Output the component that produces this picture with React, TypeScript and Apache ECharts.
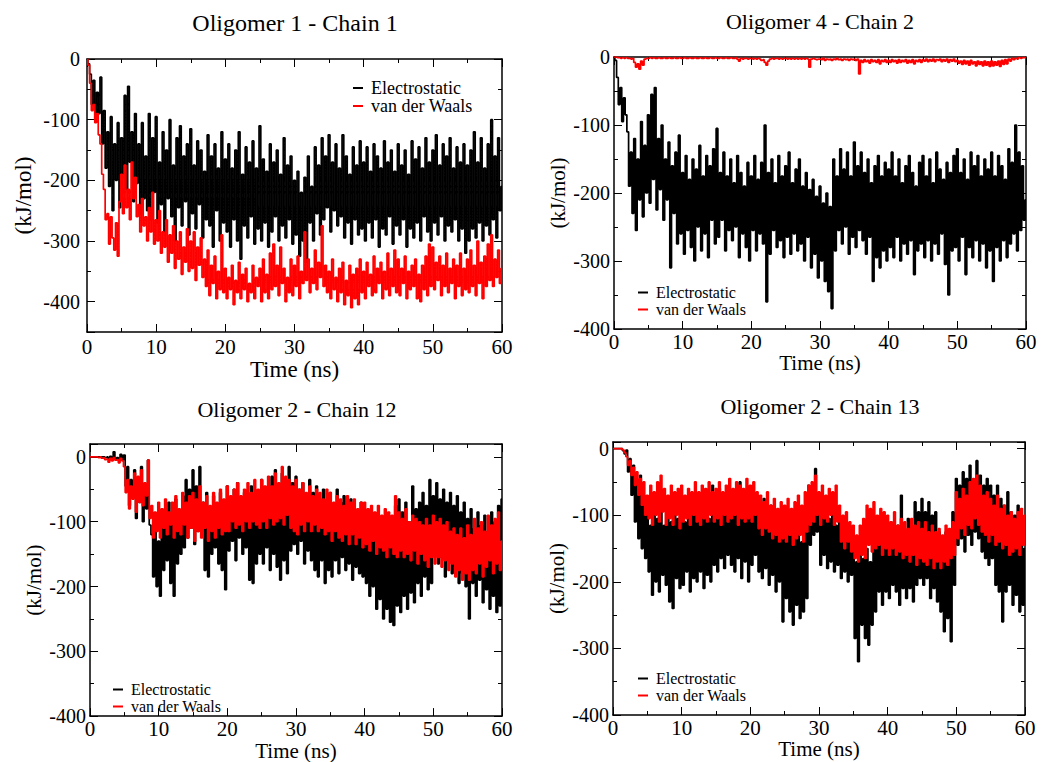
import React, { useEffect, useRef } from "react";
import * as echarts from "echarts";

// sampling step of the time grid (ns)
const T_STEP = 0.25;
const TITLES = ["Oligomer 1 - Chain 1", "Oligomer 4 - Chain 2", "Oligomer 2 - Chain 12", "Oligomer 2 - Chain 13"];
const SERIES_NAMES = ["Electrostatic", "van der Waals"];
const X_NAME = "Time (ns)";
const Y_NAME = "(kJ/mol)";
const Y_RANGES = [[-450, 0], [-400, 0], [-400, 20], [-400, 10]];

// Oligomer 1 - Chain 1
const p1Elec = [
  0, -8, -25, -75, -35, -100, -55, -90, -30, -140, -85, -180, -120, -210, -95, -250, -140, -200, -105, -245,
  -130, -190, -60, -215, -45, -170, -120, -235, -90, -205, -140, -255, -105, -230, -160, -250, -90, -265, -130, -220,
  -95, -270, -170, -240, -120, -285, -150, -230, -100, -260, -175, -300, -130, -245, -110, -275, -160, -235, -140, -290,
  -115, -255, -175, -280, -135, -240, -150, -295, -185, -265, -125, -275, -160, -310, -140, -250, -180, -300, -120, -270,
  -165, -285, -140, -310, -180, -265, -150, -300, -120, -330, -190, -275, -145, -295, -170, -260, -135, -305, -180, -280,
  -110, -300, -165, -270, -185, -310, -140, -285, -170, -260, -150, -300, -190, -275, -130, -295, -175, -265, -160, -305,
  -200, -290, -185, -325, -220, -300, -195, -335, -160, -270, -210, -300, -145, -255, -175, -290, -130, -265, -160, -245,
  -125, -285, -170, -250, -140, -275, -180, -260, -125, -295, -160, -270, -190, -305, -145, -265, -175, -290, -135, -280,
  -170, -300, -145, -270, -185, -295, -140, -265, -160, -310, -180, -280, -135, -290, -170, -260, -150, -305, -185, -275,
  -140, -290, -175, -265, -150, -310, -190, -280, -135, -295, -165, -270, -145, -300, -180, -260, -130, -285, -170, -300,
  -150, -270, -125, -290, -175, -260, -140, -300, -160, -275, -130, -285, -180, -265, -145, -300, -170, -280, -140, -320,
  -175, -300, -150, -280, -120, -295, -170, -270, -130, -300, -180, -275, -140, -290, -100, -265, -160, -295, -130, -250,
  -210,
];
const p1Vdw = [
  0, -10, -40, -85, -75, -105, -90, -125, -140, -190, -215, -265, -255, -305, -260, -295, -315, -270, -325, -235,
  -190, -255, -175, -245, -215, -265, -170, -230, -195, -260, -240, -285, -230, -275, -260, -300, -245, -285, -220, -305,
  -265, -300, -250, -320, -285, -310, -265, -335, -290, -320, -275, -345, -300, -330, -285, -355, -310, -335, -280, -350,
  -300, -345, -285, -365, -310, -340, -295, -360, -330, -375, -315, -390, -340, -370, -325, -395, -350, -380, -290, -385,
  -345, -395, -360, -380, -340, -405, -365, -385, -335, -395, -355, -380, -345, -400, -370, -385, -340, -395, -360, -375,
  -345, -400, -330, -385, -355, -395, -320, -380, -305, -375, -340, -390, -310, -370, -345, -400, -360, -385, -330, -390,
  -340, -375, -325, -395, -350, -370, -285, -365, -330, -385, -345, -370, -315, -380, -335, -360, -275, -375, -340, -385,
  -350, -395, -330, -380, -360, -400, -345, -385, -335, -405, -365, -390, -340, -410, -355, -395, -345, -405, -330, -385,
  -350, -395, -335, -375, -355, -390, -325, -385, -345, -370, -335, -395, -350, -380, -320, -390, -345, -375, -315, -385,
  -330, -390, -345, -370, -325, -395, -350, -380, -340, -375, -330, -395, -355, -400, -340, -380, -325, -390, -305, -375,
  -310, -380, -335, -365, -325, -390, -340, -375, -320, -385, -345, -370, -330, -395, -340, -375, -320, -390, -345, -380,
  -330, -385, -315, -375, -340, -390, -300, -370, -335, -395, -325, -375, -305, -365, -290, -375, -330, -360, -315, -370,
  -345,
];

// Oligomer 4 - Chain 2
const p2Elec = [
  0, -5, -30, -70, -45, -95, -60, -85, -110, -190, -140, -230, -120, -255, -150, -210, -95, -235, -130, -200,
  -85, -215, -55, -180, -45, -225, -120, -195, -100, -240, -150, -210, -125, -310, -160, -230, -140, -275, -115, -260,
  -170, -290, -145, -255, -180, -280, -150, -300, -165, -250, -130, -285, -175, -260, -145, -295, -160, -240, -135, -275,
  -105, -265, -170, -240, -140, -285, -175, -255, -150, -270, -185, -250, -145, -295, -170, -260, -190, -280, -155, -300,
  -175, -255, -145, -285, -180, -260, -155, -275, -100, -360, -170, -290, -150, -255, -185, -280, -145, -270, -175, -295,
  -160, -265, -140, -290, -185, -260, -165, -285, -150, -275, -190, -300, -170, -265, -195, -310, -180, -290, -205, -325,
  -190, -300, -215, -330, -200, -345, -220, -370, -150, -285, -175, -255, -135, -275, -165, -250, -140, -290, -175, -265,
  -125, -280, -160, -255, -140, -270, -170, -290, -150, -265, -185, -330, -160, -295, -145, -310, -175, -285, -155, -300,
  -165, -280, -140, -295, -175, -265, -150, -300, -185, -275, -160, -290, -145, -270, -170, -320, -190, -285, -155, -275,
  -145, -295, -175, -270, -150, -300, -185, -275, -140, -290, -165, -260, -180, -305, -155, -350, -170, -285, -145, -280,
  -135, -300, -170, -265, -150, -320, -180, -280, -140, -295, -160, -270, -145, -300, -175, -275, -150, -310, -165, -285,
  -140, -330, -175, -280, -145, -300, -160, -270, -180, -295, -135, -275, -155, -260, -100, -285, -140, -255, -160, -240,
  -210,
];
const p2Vdw = [
  0, 0, -1, -1, -2, -1, -2, -1, -2, -2, -3, -2, -8, -15, -10, -18, -6, -12, -3, -2,
  -2, -1, -2, -1, -2, -2, -1, -2, -2, -1, -2, -2, -1, -2, -2, -1, -2, -2, -1, -2,
  -2, -1, -2, -2, -1, -2, -2, -1, -2, -2, -1, -2, -2, -1, -2, -2, -1, -2, -2, -1,
  -2, -2, -1, -2, -2, -1, -2, -2, -1, -2, -2, -1, -3, -6, -2, -3, -2, -2, -3, -2,
  -2, -3, -2, -3, -2, -3, -5, -4, -8, -12, -6, -3, -2, -3, -2, -2, -3, -2, -3, -2,
  -2, -3, -2, -3, -2, -3, -2, -3, -2, -3, -2, -3, -2, -3, -15, -3, -2, -3, -4, -3,
  -3, -4, -2, -5, -3, -4, -3, -5, -3, -4, -2, -4, -3, -5, -3, -4, -3, -5, -3, -4,
  -3, -5, -3, -25, -5, -8, -4, -7, -5, -9, -4, -7, -5, -8, -4, -10, -5, -7, -4, -8,
  -5, -8, -4, -7, -5, -9, -4, -8, -5, -7, -4, -9, -5, -8, -4, -10, -5, -7, -4, -8,
  -4, -6, -3, -7, -4, -6, -3, -7, -4, -5, -3, -7, -4, -6, -3, -8, -4, -6, -3, -7,
  -5, -9, -6, -11, -5, -10, -6, -12, -5, -10, -7, -13, -6, -11, -7, -13, -6, -12, -7, -14,
  -6, -13, -7, -12, -6, -14, -5, -11, -4, -10, -3, -6, -2, -4, -2, -3, -1, -2, -1, -1,
  0,
];

// Oligomer 2 - Chain 12
const p3Elec = [
  0, 0, 0, 0, 0, 0, 0, 0, 0, -1, 0, -2, 1, -3, 8, -4, -1, -6, 4, -5,
  3, -45, -15, -75, -35, -60, -20, -95, -45, -70, -15, -100, -50, -80, -5, -105, -120, -185, -95, -200,
  -130, -215, -85, -175, -110, -160, -70, -195, -100, -215, -65, -165, -95, -150, -60, -140, -35, -125, -50, -110,
  -20, -135, -45, -115, -15, -100, -70, -175, -55, -185, -80, -150, -60, -140, -90, -165, -55, -175, -75, -205,
  -45, -145, -70, -130, -50, -160, -40, -125, -75, -150, -55, -140, -65, -190, -45, -195, -80, -165, -55, -150,
  -35, -165, -60, -140, -45, -175, -30, -150, -20, -170, -55, -190, -25, -160, -45, -180, -15, -145, -40, -135,
  -30, -150, -50, -130, -40, -165, -60, -145, -35, -160, -55, -175, -45, -185, -65, -160, -50, -195, -70, -175,
  -55, -185, -75, -160, -50, -180, -70, -155, -60, -175, -85, -165, -65, -190, -80, -170, -95, -180, -70, -185,
  -105, -195, -85, -215, -120, -200, -95, -235, -115, -220, -100, -250, -125, -235, -95, -255, -120, -260, -75, -230,
  -65, -240, -85, -215, -70, -235, -100, -210, -45, -225, -80, -195, -70, -215, -55, -185, -75, -205, -35, -195,
  -60, -145, -40, -165, -65, -155, -50, -185, -70, -160, -55, -180, -75, -170, -60, -195, -85, -180, -70, -200,
  -95, -250, -80, -195, -110, -215, -85, -190, -105, -225, -90, -205, -115, -235, -85, -215, -100, -240, -75, -230,
  -65,
];
const p3Vdw = [
  0, 0, 0, 0, 0, -1, 0, -2, -1, -4, -3, -8, -2, -6, -1, -5, -4, -9, -2, -6,
  -15, -55, -35, -80, -45, -65, -25, -85, -30, -70, -20, -75, -40, -60, -5, -95, -75, -125, -85, -115,
  -70, -125, -80, -110, -65, -120, -85, -105, -70, -125, -60, -115, -80, -120, -55, -105, -70, -125, -60, -110,
  -55, -130, -65, -115, -45, -125, -70, -110, -60, -130, -75, -115, -55, -125, -70, -110, -50, -120, -65, -115,
  -45, -115, -60, -100, -50, -110, -40, -105, -60, -115, -50, -100, -40, -110, -55, -100, -35, -105, -50, -110,
  -35, -100, -45, -110, -30, -95, -45, -105, -25, -100, -40, -95, -15, -105, -30, -90, -35, -110, -45, -115,
  -35, -120, -50, -105, -40, -115, -55, -100, -45, -115, -60, -105, -50, -115, -55, -110, -65, -120, -50, -115,
  -55, -130, -70, -115, -60, -125, -65, -130, -75, -120, -60, -135, -70, -120, -65, -135, -80, -125, -70, -140,
  -70, -135, -80, -145, -75, -130, -85, -150, -75, -140, -90, -145, -80, -155, -85, -140, -90, -150, -60, -155,
  -85, -145, -95, -155, -80, -150, -100, -160, -90, -145, -95, -165, -100, -150, -105, -160, -95, -170, -105, -155,
  -90, -165, -100, -155, -95, -170, -105, -160, -100, -175, -115, -165, -110, -185, -120, -175, -110, -190, -125, -180,
  -105, -190, -120, -175, -95, -180, -110, -165, -100, -185, -115, -170, -90, -160, -105, -180, -95, -165, -85, -175,
  -130,
];

// Oligomer 2 - Chain 13
const p4Elec = [
  0, 0, 0, 0, 0, 0, -3, -8, -2, -35, -15, -70, -25, -110, -50, -135, -40, -150, -70, -165,
  -95, -185, -115, -220, -85, -200, -105, -215, -90, -190, -115, -205, -95, -230, -110, -240, -85, -195, -105, -210,
  -80, -205, -110, -185, -90, -215, -100, -195, -85, -200, -110, -185, -95, -210, -80, -190, -105, -200, -55, -175,
  -75, -185, -60, -165, -85, -180, -70, -160, -95, -175, -65, -185, -80, -165, -50, -195, -75, -170, -65, -200,
  -60, -175, -85, -160, -70, -185, -95, -195, -75, -180, -100, -205, -85, -190, -105, -215, -95, -200, -115, -260,
  -100, -225, -125, -245, -105, -265, -135, -235, -115, -255, -140, -245, -120, -225, -55, -145, -75, -130, -30, -125,
  -75, -175, -95, -160, -80, -180, -105, -170, -95, -185, -115, -175, -105, -195, -120, -185, -110, -200, -125, -190,
  -145, -285, -170, -320, -140, -265, -165, -285, -150, -295, -170, -265, -125, -245, -115, -215, -130, -235, -105, -215,
  -125, -225, -110, -205, -135, -215, -115, -235, -70, -210, -125, -225, -105, -210, -130, -230, -80, -205, -95, -195,
  -75, -205, -95, -195, -80, -225, -100, -210, -95, -230, -125, -245, -145, -275, -125, -255, -150, -290, -95, -205,
  -45, -145, -55, -135, -35, -155, -45, -130, -25, -145, -50, -125, -18, -135, -40, -155, -55, -165, -45, -175,
  -55, -165, -70, -205, -55, -215, -75, -260, -85, -215, -65, -205, -95, -235, -100, -220, -85, -245, -115, -235,
  -150,
];
const p4Vdw = [
  0, 0, 0, 0, 0, 0, -2, -6, -12, -25, -18, -40, -28, -55, -35, -70, -45, -85, -50, -100,
  -70, -105, -55, -115, -65, -100, -50, -110, -40, -95, -60, -115, -70, -105, -55, -115, -65, -100, -60, -120,
  -55, -110, -70, -105, -60, -115, -65, -100, -50, -110, -65, -115, -55, -105, -60, -110, -50, -100, -65, -110,
  -60, -105, -50, -115, -65, -100, -55, -110, -45, -105, -60, -100, -50, -115, -55, -105, -60, -110, -45, -105,
  -55, -110, -50, -100, -65, -120, -70, -130, -80, -120, -65, -125, -85, -135, -75, -130, -90, -140, -80, -135,
  -85, -140, -75, -130, -90, -145, -80, -135, -70, -130, -85, -140, -65, -125, -55, -115, -50, -110, -40, -100,
  -65, -115, -55, -105, -70, -110, -60, -100, -65, -115, -55, -110, -85, -140, -100, -150, -95, -140, -110, -155,
  -115, -165, -130, -170, -115, -160, -105, -165, -85, -145, -90, -155, -80, -150, -100, -145, -90, -160, -95, -150,
  -100, -160, -110, -150, -95, -160, -115, -155, -105, -165, -110, -160, -120, -170, -105, -160, -115, -175, -110, -165,
  -120, -170, -110, -175, -125, -165, -115, -180, -125, -170, -120, -180, -130, -170, -115, -175, -120, -165, -110, -160,
  -65, -135, -75, -120, -60, -130, -70, -115, -50, -120, -45, -105, -40, -115, -55, -125, -70, -130, -65, -140,
  -75, -130, -85, -145, -70, -140, -90, -150, -85, -145, -100, -160, -95, -155, -105, -150, -95, -160, -90, -145,
  -100,
];

const ELEC = [p1Elec, p2Elec, p3Elec, p4Elec];
const VDW = [p1Vdw, p2Vdw, p3Vdw, p4Vdw];

const FONT = "Liberation Serif";
const COLORS = ["#000000", "#ff0000"];

const LAYOUT = [
  { grid: { left: 87, top: 59, width: 415, height: 273 }, title: [295, 23], titleSize: 24, nameSize: 23, yNameGap: 52, xNameGap: 17, yMargin: 7, xMargin: 4, legend: { left: 353, top: 79 }, legendSize: 18 },
  { grid: { left: 614, top: 57, width: 412, height: 272 }, title: [820, 21], titleSize: 22, nameSize: 21, yNameGap: 46, xNameGap: 19, yMargin: 4, xMargin: 2, legend: { left: 638, top: 284 }, legendSize: 16 },
  { grid: { left: 90, top: 444, width: 412, height: 274 }, title: [297, 409], titleSize: 22, nameSize: 21, yNameGap: 46, xNameGap: 18, yMargin: 4, xMargin: 2, legend: { left: 113, top: 681 }, legendSize: 16 },
  { grid: { left: 613, top: 442, width: 412, height: 273 }, title: [820, 406], titleSize: 22, nameSize: 21, yNameGap: 46, xNameGap: 19, yMargin: 4, xMargin: 2, legend: { left: 638, top: 670 }, legendSize: 16 },
];

function toPairs(vals: number[]) {
  return vals.map((v, i) => [i * T_STEP, v]);
}

function buildOption() {
  const grid: any[] = [];
  const xAxis: any[] = [];
  const yAxis: any[] = [];
  const series: any[] = [];
  const legend: any[] = [];
  const graphic: any[] = [];
  const lineStyle = { color: "#000", width: 1.5 };

  LAYOUT.forEach((L, i) => {
    const [yMin, yMax] = Y_RANGES[i];
    grid.push({ ...L.grid, containLabel: false });
    const xBase = {
      type: "value", gridIndex: i, min: 0, max: 60, interval: 10,
      splitLine: { show: false },
      axisLine: { show: true, onZero: false, lineStyle },
      axisTick: { show: true, inside: true, length: 8, lineStyle: { color: "#000", width: 1 } },
      minorTick: { show: true, splitNumber: 2, length: 4, lineStyle: { color: "#000", width: 1 } },
    };
    xAxis.push({
      ...xBase, position: "bottom",
      axisLabel: { show: true, color: "#000", fontFamily: FONT, fontSize: 21, margin: L.xMargin },
      name: X_NAME, nameLocation: "middle", nameGap: L.xNameGap,
      nameTextStyle: { color: "#000", fontFamily: FONT, fontSize: L.nameSize },
    });
    xAxis.push({ ...xBase, position: "top", axisLabel: { show: false } });
    const yBase: any = {
      type: "value", gridIndex: i, min: yMin, max: yMax,
      splitLine: { show: false },
      axisLine: { show: true, onZero: false, lineStyle },
      axisTick: { show: true, inside: true, length: 8, lineStyle: { color: "#000", width: 1 } },
      minorTick: { show: true, splitNumber: 2, length: 4, lineStyle: { color: "#000", width: 1 } },
    };
    if (yMin % 100 === 0) yBase.interval = 100;
    else yBase.splitNumber = 5;
    yAxis.push({
      ...yBase, position: "left",
      axisLabel: {
        show: true, color: "#000", fontFamily: FONT, fontSize: 20, margin: L.yMargin,
        showMinLabel: yMin % 100 === 0, showMaxLabel: yMax % 100 === 0,
      },
      name: Y_NAME, nameLocation: "middle", nameGap: L.yNameGap,
      nameTextStyle: { color: "#000", fontFamily: FONT, fontSize: L.nameSize },
    });
    yAxis.push({ ...yBase, position: "right", axisLabel: { show: false } });

    series.push({
      name: SERIES_NAMES[0], type: "line", xAxisIndex: 2 * i, yAxisIndex: 2 * i,
      data: toPairs(ELEC[i]), showSymbol: false, symbol: "none", step: "middle",
      lineStyle: { color: COLORS[0], width: 1.7 }, itemStyle: { color: COLORS[0] }, z: 2,
    });
    series.push({
      name: SERIES_NAMES[1], type: "line", xAxisIndex: 2 * i, yAxisIndex: 2 * i,
      data: toPairs(VDW[i]), showSymbol: false, symbol: "none", step: "middle",
      lineStyle: { color: COLORS[1], width: 1.7 }, itemStyle: { color: COLORS[1] }, z: 3,
    });

    legend.push({
      data: SERIES_NAMES, orient: "vertical", left: L.legend.left, top: L.legend.top,
      padding: 0, itemGap: 0, itemWidth: 10, itemHeight: 2, icon: "rect", selectedMode: false,
      textStyle: { color: "#000", fontFamily: FONT, fontSize: L.legendSize, lineHeight: 17, padding: [0, 0, 0, 3] },
    });

    graphic.push({
      type: "text", x: L.title[0], y: L.title[1],
      style: {
        text: TITLES[i], fill: "#000", fontFamily: FONT, fontSize: L.titleSize,
        align: "center", verticalAlign: "middle", textAlign: "center", textVerticalAlign: "middle",
      },
    });
  });

  return {
    animation: false, backgroundColor: "#fff",
    textStyle: { fontFamily: FONT, color: "#000" },
    grid, xAxis, yAxis, series, legend, graphic,
  };
}

export default function App() {
  const ref = useRef<HTMLDivElement>(null);
  useEffect(() => {
    const chart = echarts.init(ref.current!, null, { renderer: "svg" });
    chart.setOption(buildOption() as any);
    return () => chart.dispose();
  }, []);
  return (
    <div
      ref={ref}
      style={{ position: "absolute", left: 0, top: 0, width: 1043, height: 762, background: "#fff" }}
    />
  );
}
